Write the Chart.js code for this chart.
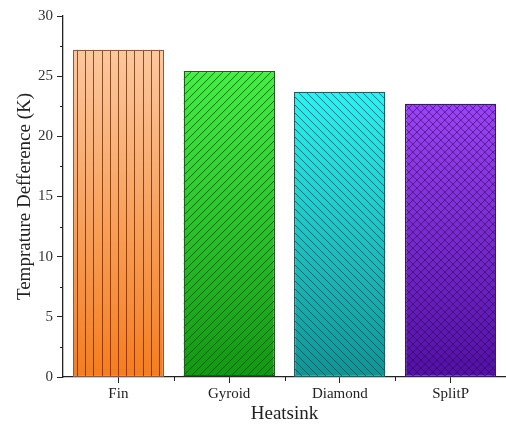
<!DOCTYPE html>
<html>
<head>
<meta charset="utf-8">
<script src="https://cdn.jsdelivr.net/npm/chart.js@4.4.1/dist/chart.umd.min.js"></script>
<style>
  html, body { margin: 0; padding: 0; background: #ffffff; }
  #wrap { width: 506px; height: 425px; position: relative; }
</style>
</head>
<body>
<div id="wrap"><canvas id="c"></canvas></div>
<script>
// Heatsink temperature difference data
const categories = ['Fin', 'Gyroid', 'Diamond', 'SplitP'];
const tempDiff = [27.2, 25.4, 23.7, 22.7];
const yMin = 0;
const yMax = 30;
const yStep = 5;

// Per-bar appearance: vertical gradient (top -> bottom), border and hatch style
const topColors = ['#fbc89e', '#46ee46', '#2cf2f2', '#9c44f6'];
const bottomColors = ['#f57d1d', '#129812', '#129393', '#5210a4'];
const borderColors = ['#8a5a40', '#1d5e1d', '#1d5e62', '#3a1a66'];
const hatchKinds = ['vertical', 'forward', 'backward', 'cross'];
const hatchColors = ['rgba(105,35,5,0.75)', 'rgba(10,70,10,0.75)', 'rgba(10,70,80,0.75)', 'rgba(45,10,85,0.6)'];

const SERIF = '"Liberation Serif", "Times New Roman", serif';
const AXIS_COLOR = '#222222';

function barGradient(ctx) {
  const chart = ctx.chart;
  const i = ctx.dataIndex;
  if (!chart.chartArea || !chart.scales.y) return topColors[i];
  const y = chart.scales.y;
  const top = y.getPixelForValue(tempDiff[i]);
  const bottom = y.getPixelForValue(0);
  const g = chart.ctx.createLinearGradient(0, top, 0, bottom);
  g.addColorStop(0, topColors[i]);
  g.addColorStop(1, bottomColors[i]);
  return g;
}

// Hatching drawn inside each bar, plus minor ticks on both axes
const decorations = {
  id: 'decorations',
  afterDatasetsDraw(chart) {
    const ctx = chart.ctx;
    const meta = chart.getDatasetMeta(0);
    meta.data.forEach((bar, i) => {
      const p = bar.getProps(['x', 'y', 'base', 'width'], true);
      const left = p.x - p.width / 2;
      const right = p.x + p.width / 2;
      const top = Math.min(p.y, p.base);
      const bottom = Math.max(p.y, p.base);
      const h = bottom - top;
      ctx.save();
      ctx.beginPath();
      ctx.rect(left, top, p.width, h);
      ctx.clip();
      ctx.strokeStyle = hatchColors[i];
      ctx.lineWidth = 1;
      ctx.beginPath();
      const kind = hatchKinds[i];
      if (kind === 'vertical') {
        for (let x = left + 4; x < right; x += 8.2) {
          ctx.moveTo(Math.round(x) + 0.5, top);
          ctx.lineTo(Math.round(x) + 0.5, bottom);
        }
      }
      const s = 8;
      if (kind === 'forward' || kind === 'cross') {
        for (let x = left - h; x < right + h; x += s) {
          ctx.moveTo(x, bottom);
          ctx.lineTo(x + h, top);
        }
      }
      if (kind === 'backward' || kind === 'cross') {
        for (let x = left - h; x < right + h; x += s) {
          ctx.moveTo(x, top);
          ctx.lineTo(x + h, bottom);
        }
      }
      ctx.stroke();
      ctx.restore();
      ctx.save();
      ctx.strokeStyle = borderColors[i];
      ctx.lineWidth = 1;
      ctx.strokeRect(Math.round(left) + 0.5, Math.round(top) + 0.5, Math.round(p.width) - 1, Math.round(h) - 1);
      ctx.restore();
    });

    // minor ticks
    const ys = chart.scales.y;
    const xs = chart.scales.x;
    ctx.save();
    ctx.strokeStyle = AXIS_COLOR;
    ctx.lineWidth = 1;
    ctx.beginPath();
    for (let v = yMin + yStep / 2; v < yMax; v += yStep) {
      const py = Math.round(ys.getPixelForValue(v)) + 0.5;
      ctx.moveTo(ys.right - 3, py);
      ctx.lineTo(ys.right, py);
    }
    const n = categories.length;
    for (let k = 1; k <= n; k++) {
      const a = xs.getPixelForValue(k - 1);
      const b = k < n ? xs.getPixelForValue(k) : 2 * a - xs.getPixelForValue(k - 2);
      const px = Math.round((a + b) / 2) + 0.5;
      if (px > chart.width) continue;
      ctx.moveTo(px, xs.top);
      ctx.lineTo(px, xs.top + 4);
    }
    ctx.stroke();
    ctx.restore();
  }
};

new Chart(document.getElementById('c'), {
  type: 'bar',
  data: {
    labels: categories,
    datasets: [{
      data: tempDiff,
      backgroundColor: barGradient,
      borderColor: borderColors,
      borderWidth: 1,
      borderSkipped: false,
      barPercentage: 0.82,
      categoryPercentage: 1.0
    }]
  },
  options: {
    responsive: true,
    maintainAspectRatio: false,
    animation: false,
    layout: { padding: { top: 16, right: 0, left: 0, bottom: 0 } },
    plugins: {
      legend: { display: false },
      tooltip: { enabled: false }
    },
    scales: {
      x: {
        offset: true,
        afterFit(scale) { scale.height = 48; },
        grid: {
          display: true,
          offset: false,
          drawOnChartArea: false,
          drawTicks: true,
          tickLength: 6,
          color: AXIS_COLOR
        },
        border: { display: true, color: AXIS_COLOR, width: 1.3 },
        ticks: {
          color: '#222',
          padding: 2,
          font: { family: SERIF, size: 15 }
        },
        title: {
          display: true,
          text: 'Heatsink',
          color: '#222',
          padding: { top: 0, bottom: 0 },
          font: { family: SERIF, size: 19 }
        }
      },
      y: {
        min: yMin,
        max: yMax,
        afterFit(scale) { scale.width = 63; },
        ticks: {
          stepSize: yStep,
          color: '#333',
          padding: 4,
          font: { family: SERIF, size: 15 }
        },
        grid: {
          display: true,
          drawOnChartArea: false,
          drawTicks: true,
          tickLength: 6,
          color: AXIS_COLOR
        },
        border: { display: true, color: AXIS_COLOR, width: 1.3 },
        title: {
          display: true,
          text: 'Temprature Defference (K)',
          color: '#222',
          padding: { top: 14, bottom: 0 },
          font: { family: SERIF, size: 19 }
        }
      }
    }
  },
  plugins: [decorations]
});
</script>
</body>
</html>
